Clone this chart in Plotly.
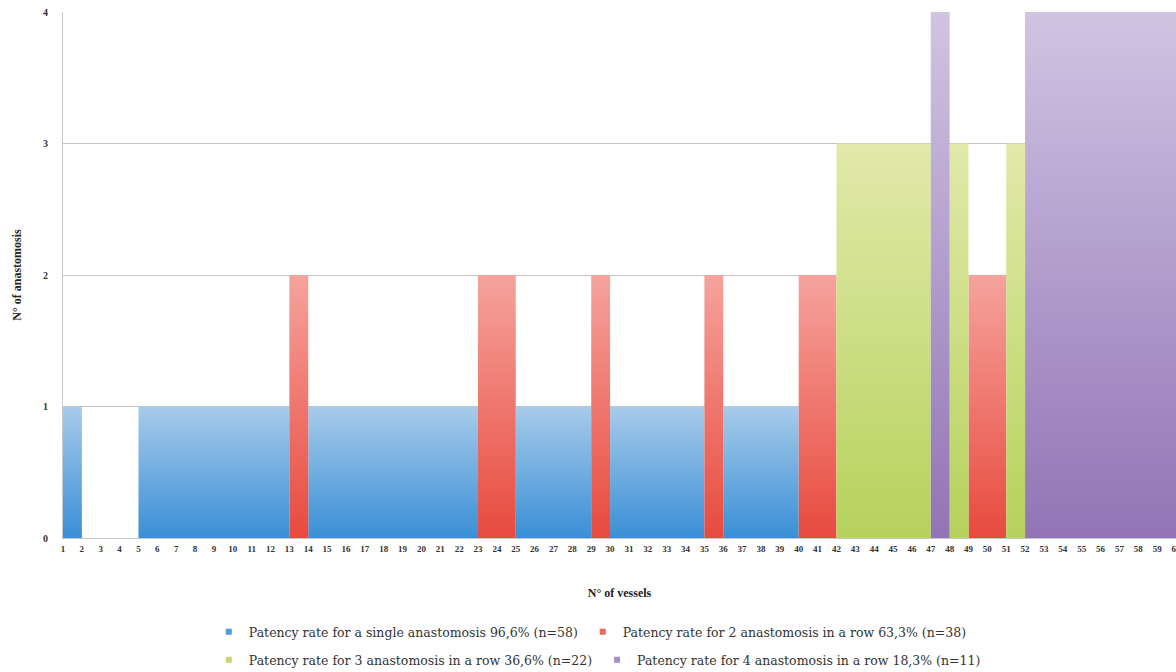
import plotly.graph_objects as go

# Segments of consecutive vessels (start vessel, end vessel) and number of anastomoses in a row
seg_start = [1, 5, 13, 14, 23, 25, 29, 30, 35, 36, 40, 42, 47, 48, 49, 51, 52]
seg_end   = [2, 13, 14, 23, 25, 29, 30, 35, 36, 40, 42, 47, 48, 49, 51, 52, 60]
seg_n     = [1, 1, 2, 1, 2, 1, 2, 1, 2, 1, 2, 3, 4, 3, 2, 3, 4]

series_n = [1, 2, 3, 4]
series_names = [
    "Patency rate for a single anastomosis 96,6% (n=58)",
    "Patency rate for 2 anastomosis in a row 63,3% (n=38)",
    "Patency rate for 3 anastomosis in a row 36,6% (n=22)",
    "Patency rate for 4 anastomosis in a row 18,3% (n=11)",
]
bottom_colors = ["#3a8fd6", "#e84a3e", "#b6d25c", "#9274b6"]
top_colors    = ["#a8cbea", "#f5a39d", "#e2e9aa", "#d0c4e2"]
legend_colors = ["#4f9bdb", "#ec6a60", "#c4d96f", "#a48cc4"]

x_ticks = list(range(1, 61))
y_ticks = [0, 1, 2, 3, 4]

fig = go.Figure()

for k, n in enumerate(series_n):
    xs, ys = [], []
    for s, e, h in zip(seg_start, seg_end, seg_n):
        if h != n:
            continue
        xs += [s, s, e, e, s, None]
        ys += [0, h, h, 0, 0, None]
    fig.add_trace(go.Scatter(
        x=xs, y=ys, mode="lines", fill="toself",
        line=dict(width=0, color=bottom_colors[k]),
        fillgradient=dict(type="vertical", start=0, stop=n,
                          colorscale=[[0, bottom_colors[k]], [1, top_colors[k]]]),
        showlegend=False, hoverinfo="skip",
    ))

legend_font = dict(family="DejaVu Serif", size=12.5, color="#333333")
for k, n in enumerate(series_n):
    fig.add_trace(go.Scatter(
        x=[None], y=[None], mode="markers",
        marker=dict(symbol="square", size=6, color=legend_colors[k]),
        name=series_names[k],
        legend="legend" if k < 2 else "legend2",
    ))

fig.update_layout(
    width=1176, height=672,
    margin=dict(l=63, r=0, t=12, b=134, autoexpand=False),
    paper_bgcolor="white", plot_bgcolor="white",
    legend=dict(orientation="h", x=0.131, xanchor="left", y=-0.179, yanchor="middle",
                font=legend_font, itemwidth=30, tracegroupgap=0, bgcolor="rgba(0,0,0,0)"),
    legend2=dict(orientation="h", x=0.131, xanchor="left", y=-0.232, yanchor="middle",
                 font=legend_font, itemwidth=30, tracegroupgap=0, bgcolor="rgba(0,0,0,0)"),
    xaxis=dict(
        range=[1, 60], tickmode="array", tickvals=x_ticks, ticktext=[str(v) for v in x_ticks],
        showgrid=False, zeroline=False, showline=True, linecolor="#c8c8c8", linewidth=1,
        tickfont=dict(family="Liberation Serif", size=9, color="#333333", weight="bold"),
        ticks="", ticklabelstandoff=2, ticklabeloverflow="allow", automargin=False,
        title=dict(text="N° of vessels", standoff=35,
                   font=dict(family="Liberation Serif", size=12, color="#222222", weight="bold")),
    ),
    yaxis=dict(
        range=[0, 4], tickmode="array", tickvals=y_ticks, ticktext=[str(v) for v in y_ticks],
        showgrid=True, gridcolor="#c4c4c4", gridwidth=1, zeroline=False,
        showline=True, linecolor="#c8c8c8", linewidth=1, mirror=False,
        tickfont=dict(family="Liberation Serif", size=10, color="#333333", weight="bold"),
        ticks="", ticklabelstandoff=12, automargin=False,
        title=dict(text="N° of anastomosis", standoff=18,
                   font=dict(family="Liberation Serif", size=12, color="#222222", weight="bold")),
    ),
)

fig.write_html("out.html")
